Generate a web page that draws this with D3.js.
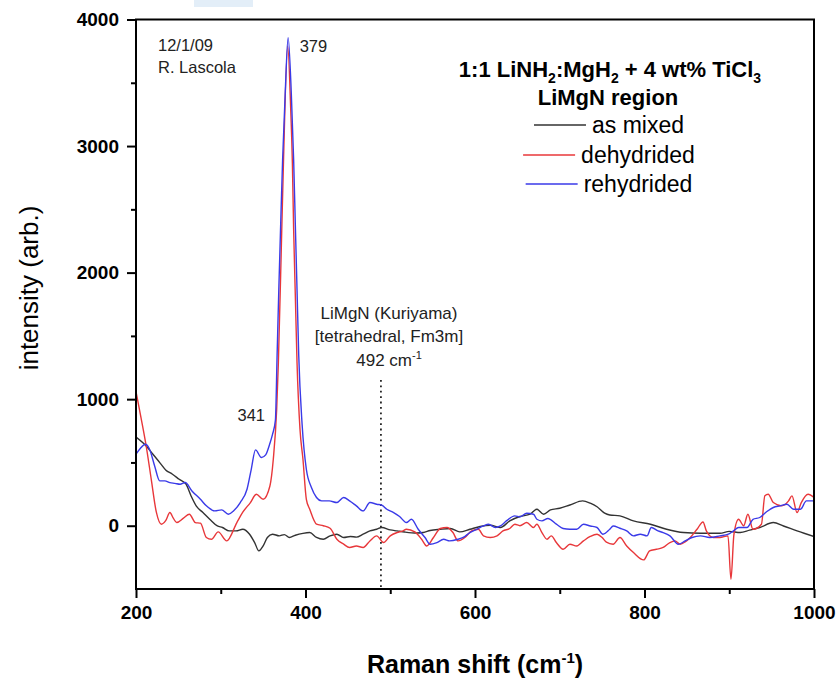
<!DOCTYPE html>
<html>
<head>
<meta charset="utf-8">
<script src="https://cdn.jsdelivr.net/npm/d3@7"></script>
<style>
  body { margin: 0; background: #fff; }
  svg { display: block; font-family: "Liberation Sans", Arial, sans-serif; }
</style>
</head>
<body>
<script>
// [Raman shift (cm-1), intensity (arb.)]
const asMixed = [
  [200, 700], [212, 630], [220, 565], [228, 499], [235, 441], [243, 407], [251, 367],
  [259, 328], [265, 235], [271, 157], [279, 104], [287, 51], [296, -2], [302, -14],
  [310, -41], [318, -41], [326, -28], [334, -67], [340, -133], [345, -199], [350, -160],
  [355, -93], [361, -67], [369, -80], [375, -70], [381, -93], [388, -75], [397, -60],
  [405, -54], [413, -93], [421, -107], [429, -80], [437, -67], [445, -93], [453, -85],
  [460, -90], [468, -67], [476, -41], [484, -28], [490, -14], [500, -33], [508, -41],
  [517, -50], [531, -58], [539, -54], [547, -38], [559, -28], [571, -22], [582, -49],
  [594, -28], [606, -6], [618, 4], [630, -14], [641, 38], [653, 73], [665, 91],
  [673, 130], [681, 91], [689, 125], [700, 138], [712, 164], [727, 196], [736, 178],
  [744, 150], [753, 99], [759, 85], [771, 78], [787, 38], [807, 12], [826, -28],
  [846, -54], [866, -59], [889, -59], [900, -45], [913, -54], [924, -35], [936, -14],
  [952, 25], [964, -2], [980, -41], [1000, -85]
];

const dehydrided = [
  [200, 1060], [206, 850], [212, 630], [218, 367], [224, 107], [230, 12], [235, 40],
  [240, 104], [244, 60], [248, 25], [256, 60], [263, 91], [270, 25], [276, 20],
  [283, -93], [289, -107], [297, -49], [307, -120], [319, 25], [326, 107], [335, 183],
  [342, 249], [350, 209], [358, 314], [362, 525], [366, 920], [368, 1289], [372, 2342],
  [374, 2870], [379, 3790], [382.5, 3300], [384.5, 2870], [386, 2342], [388, 1815],
  [390, 1289], [393.5, 762], [397, 525], [401, 209], [405, 130], [413, 12], [421, 0],
  [429, -20], [437, -107], [445, -146], [452, -172], [460, -160], [468, -172],
  [476, -120], [484, -80], [492, -133], [500, -80], [508, -54], [515, -41], [519, -28],
  [529, -49], [537, -107], [543, -160], [551, -93], [559, -22], [567, -14], [574, -54],
  [580, -120], [588, -93], [596, -41], [604, -28], [610, -80], [618, -93], [626, -80],
  [633, -41], [641, -22], [647, 12], [653, 0], [661, 25], [669, -14], [673, 12],
  [679, -54], [685, -107], [690, -80], [696, -133], [704, -186], [712, -146], [720, -160],
  [728, -120], [736, -85], [744, -67], [750, -93], [755, -130], [763, -146], [771, -93],
  [779, -160], [787, -212], [799, -270], [806, -199], [814, -186], [822, -172],
  [830, -133], [836, -120], [842, -146], [848, -128], [854, -93], [862, -28], [869, 30],
  [873, -41], [881, -93], [889, -93], [898.5, -80], [902, -423], [905.5, -70], [911, 51],
  [917, 0], [922, 91], [928, -28], [938, 12], [942, 236], [946, 249], [952, 183],
  [962, 157], [970, 196], [974, 236], [980, 104], [985, 183], [993, 249], [1000, 223]
];

const rehydrided = [
  [200, 565], [205, 610], [211, 644], [216, 604], [222, 472], [228, 354], [234, 354],
  [240, 341], [246, 335], [252, 328], [258, 341], [266, 275], [276, 209], [283, 157],
  [293, 117], [301, 125], [309, 91], [315, 117], [323, 183], [331, 288], [336, 446],
  [341, 599], [348, 539], [353, 560], [357.5, 640], [361, 720], [364.5, 834],
  [366.5, 1349], [368.5, 1864], [370.7, 2379], [373, 2893], [376, 3408], [379.5, 3857],
  [383.3, 3408], [386, 2893], [388, 2379], [390, 1864], [392, 1349], [396, 800],
  [401, 446], [407, 302], [413, 223], [419, 196], [428, 196], [437, 183], [445, 223],
  [452, 196], [460, 157], [468, 117], [476, 183], [484, 170], [490, 162], [496, 130],
  [504, 104], [511, 73], [519, 25], [525, 51], [533, -28], [541, -93], [547, -146],
  [555, -133], [563, -107], [570, -120], [580, -107], [586, -93], [594, -54], [602, -28],
  [610, -2], [616, 12], [624, -14], [630, -2], [637, 38], [647, 78], [653, 70],
  [661, 99], [669, 91], [673, 51], [679, 38], [686, 57], [696, 12], [704, -22],
  [712, -28], [720, -28], [728, 12], [736, -2], [744, -14], [751, -67], [759, -28],
  [763, -2], [771, -20], [779, -41], [787, -80], [795, -67], [803, -80], [808, -14],
  [816, -41], [822, -54], [830, -80], [840, -146], [848, -120], [856, -93], [866, -80],
  [877, -93], [889, -80], [899, -67], [905, -41], [911, -14], [921, -14], [928, 51],
  [936, 65], [944, 110], [952, 144], [960, 157], [968, 170], [976, 130], [984, 130],
  [991, 196], [1000, 196]
];

const seriesNames = ["as mixed", "dehydrided", "rehydrided"];
const seriesData = [asMixed, dehydrided, rehydrided];
const seriesColors = ["#333333", "#e8373a", "#3a3ae8"];

const xMajor = [200, 400, 600, 800, 1000];
const xMinor = [300, 500, 700, 900];
const yMajor = [0, 1000, 2000, 3000, 4000];
const yMinor = [500, 1500, 2500, 3500];

const peakLabels = [[379, "379"], [341, "341"]];
const refLine = 489; // LiMgN (Kuriyama) marker

const width = 838, height = 679;
const margin = { top: 19.5, right: 24, bottom: 90, left: 136 };

const svg = d3
  .select("body")
  .append("svg")
  .attr("width", width)
  .attr("height", height);

// light blue strip at top edge of the original image
svg.append("rect")
  .attr("x", 194).attr("y", 0).attr("width", 59).attr("height", 7)
  .attr("fill", "#e3eef8");

const x = d3.scaleLinear().domain([200, 1000]).range([margin.left, width - margin.right]);
const y = d3.scaleLinear().domain([-500, 4000]).range([height - margin.bottom, margin.top]);

svg.append("clipPath").attr("id", "clip")
  .append("rect")
  .attr("x", x(200)).attr("y", y(4000))
  .attr("width", x(1000) - x(200)).attr("height", y(-500) - y(4000));

const line = d3.line()
  .x((d) => x(d[0]))
  .y((d) => y(d[1]))
  .curve(d3.curveMonotoneX);

const plot = svg.append("g").attr("clip-path", "url(#clip)");

// dotted reference line
plot.append("line")
  .attr("x1", x(refLine)).attr("x2", x(refLine))
  .attr("y1", 380).attr("y2", y(-500))
  .attr("stroke", "#222")
  .attr("stroke-width", 1.8)
  .attr("stroke-dasharray", "1.8,3.6");

seriesData.forEach((d, i) => {
  plot.append("path")
    .datum(d)
    .attr("fill", "none")
    .attr("stroke", seriesColors[i])
    .attr("stroke-width", 1.4)
    .attr("d", line);
});

// axes
const xAxis = svg.append("g")
  .attr("transform", `translate(0,${y(-500)})`)
  .call(d3.axisBottom(x).tickValues(xMajor).tickSize(9).tickPadding(4).tickFormat(d3.format("d")));
svg.append("g")
  .attr("transform", `translate(0,${y(-500)})`)
  .call(d3.axisBottom(x).tickValues(xMinor).tickSize(5).tickFormat(""));

const yAxis = svg.append("g")
  .attr("transform", `translate(${x(200)},0)`)
  .call(d3.axisLeft(y).tickValues(yMajor).tickSize(9).tickPadding(8).tickFormat(d3.format("d")));
svg.append("g")
  .attr("transform", `translate(${x(200)},0)`)
  .call(d3.axisLeft(y).tickValues(yMinor).tickSize(5).tickFormat(""));

svg.selectAll(".domain").remove();
svg.selectAll(".tick line").attr("stroke", "#000").attr("stroke-width", 2);
svg.selectAll(".tick text")
  .attr("fill", "#000")
  .style("font-family", "'Liberation Sans', Arial, sans-serif")
  .style("font-size", "19px")
  .style("font-weight", "bold");
xAxis.selectAll(".tick text").attr("dy", "0.9em");

// frame
svg.append("rect")
  .attr("x", x(200)).attr("y", y(4000))
  .attr("width", x(1000) - x(200)).attr("height", y(-500) - y(4000))
  .attr("fill", "none")
  .attr("stroke", "#000")
  .attr("stroke-width", 2);

// axis titles
const xTitle = svg.append("text")
  .attr("x", (x(200) + x(1000)) / 2)
  .attr("y", 673)
  .attr("text-anchor", "middle")
  .style("font-size", "25px")
  .style("font-weight", "bold");
xTitle.append("tspan").text("Raman shift (cm");
xTitle.append("tspan").attr("dy", -10).style("font-size", "15px").text("-1");
xTitle.append("tspan").attr("dy", 10).text(")");

svg.append("text")
  .attr("transform", "translate(38,288) rotate(-90)")
  .attr("text-anchor", "middle")
  .style("font-size", "26px")
  .text("intensity (arb.)");

// annotations
const note = { fill: "#222", size: "16.5px" };
svg.append("text").attr("x", 158).attr("y", 51).attr("fill", note.fill)
  .style("font-size", note.size).text("12/1/09");
svg.append("text").attr("x", 158).attr("y", 73).attr("fill", note.fill)
  .style("font-size", note.size).text("R. Lascola");

svg.append("text").attr("x", x(peakLabels[0][0]) + 12).attr("y", 52).attr("fill", note.fill)
  .style("font-size", note.size).text(peakLabels[0][1]);
svg.append("text").attr("x", x(peakLabels[1][0]) - 18).attr("y", 421).attr("fill", note.fill)
  .style("font-size", note.size).text(peakLabels[1][1]);

const refX = 389;
svg.append("text").attr("x", refX).attr("y", 319).attr("text-anchor", "middle").attr("fill", note.fill)
  .style("font-size", "17px").text("LiMgN (Kuriyama)");
svg.append("text").attr("x", refX).attr("y", 342).attr("text-anchor", "middle").attr("fill", note.fill)
  .style("font-size", "17px").text("[tetrahedral, Fm3m]");
const refT = svg.append("text").attr("x", refX).attr("y", 366).attr("text-anchor", "middle")
  .attr("fill", note.fill).style("font-size", "17px");
refT.append("tspan").text("492 cm");
refT.append("tspan").attr("dy", -7).style("font-size", "11px").text("-1");

// legend
const legendCx = 610;
const t1 = svg.append("text").attr("x", legendCx).attr("y", 77).attr("text-anchor", "middle")
  .style("font-size", "22px").style("font-weight", "bold");
t1.append("tspan").text("1:1 LiNH");
t1.append("tspan").attr("dy", 6).style("font-size", "14px").text("2");
t1.append("tspan").attr("dy", -6).text(":MgH");
t1.append("tspan").attr("dy", 6).style("font-size", "14px").text("2");
t1.append("tspan").attr("dy", -6).text(" + 4 wt% TiCl");
t1.append("tspan").attr("dy", 6).style("font-size", "14px").text("3");

svg.append("text").attr("x", legendCx - 2).attr("y", 105).attr("text-anchor", "middle")
  .style("font-size", "22px").style("font-weight", "bold").text("LiMgN region");

const legendRows = [133, 163, 192];
seriesNames.forEach((name, i) => {
  const g = svg.append("g");
  const t = g.append("text").attr("y", legendRows[i]).style("font-size", "23px").text(name);
  const tw = t.node().getComputedTextLength();
  const total = 52 + 6 + tw;
  const x0 = legendCx - 1 - total / 2;
  g.append("line")
    .attr("x1", x0).attr("x2", x0 + 52)
    .attr("y1", legendRows[i] - 8).attr("y2", legendRows[i] - 8)
    .attr("stroke", seriesColors[i]).attr("stroke-width", 1.3);
  t.attr("x", x0 + 58);
});
</script>
</body>
</html>
